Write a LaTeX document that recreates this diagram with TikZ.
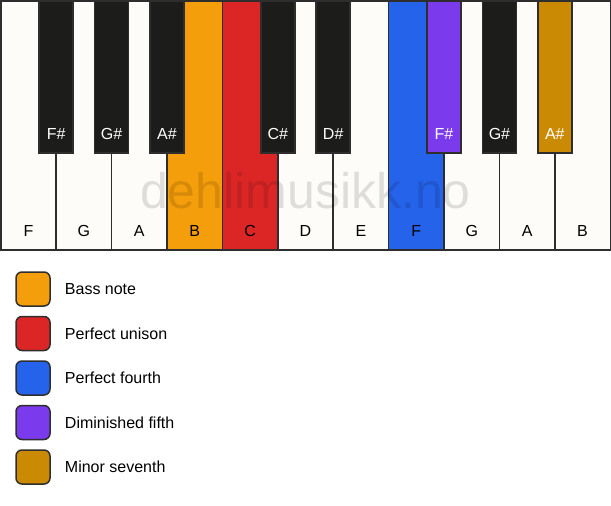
\documentclass[tikz,border=0pt]{standalone}
\usepackage{fontspec}
\setmainfont{Liberation Sans}
\usetikzlibrary{positioning}
\definecolor{ivory}{HTML}{FDFCF9}
\definecolor{keyline}{HTML}{2E2E2E}
\definecolor{ebony}{HTML}{1C1C1A}
\definecolor{bassorange}{HTML}{F59E0B}
\definecolor{unisonred}{HTML}{DC2626}
\definecolor{fourthblue}{HTML}{2563EB}
\definecolor{fifthpurple}{HTML}{7C3AED}
\definecolor{seventhgold}{HTML}{CA8A04}
\tikzset{
  whitekey/.style={draw=keyline,line width=1.5pt,fill=ivory},
  blackkey/.style={draw=keyline,line width=1.5pt,fill=ebony},
  whitelabel/.style={font=\fontsize{16}{19}\selectfont,text=black,anchor=base},
  blacklabel/.style={font=\fontsize{16}{19}\selectfont,text=white,anchor=base},
  swatch/.style={draw=keyline,line width=1.5pt,rounded corners=6pt,minimum size=34pt,inner sep=0pt},
  legendtext/.style={font=\fontsize{16}{19}\selectfont,inner sep=0pt,anchor=west}
}

\begin{document}
\begin{tikzpicture}[x=1pt,y=-1pt]
\useasboundingbox (0,0) rectangle (611,506);

% White keys
\draw[whitekey] (0.75,0.75) rectangle (56.16,250);
\node[whitelabel] (lF1) at (28.45,236) {F};
\draw[whitekey] (56.16,0.75) rectangle (111.57,250);
\node[whitelabel] (lG1) at (83.86,236) {G};
\draw[whitekey] (111.57,0.75) rectangle (166.98,250);
\node[whitelabel] (lA1) at (139.27,236) {A};
\draw[whitekey,fill=bassorange] (166.98,0.75) rectangle (222.39,250);
\node[whitelabel] (lB1) at (194.68,236) {B};
\draw[whitekey,fill=unisonred] (222.39,0.75) rectangle (277.80,250);
\node[whitelabel] (lC) at (250.09,236) {C};
\draw[whitekey] (277.80,0.75) rectangle (333.21,250);
\node[whitelabel] (lD) at (305.50,236) {D};
\draw[whitekey] (333.21,0.75) rectangle (388.62,250);
\node[whitelabel] (lE) at (360.91,236) {E};
\draw[whitekey,fill=fourthblue] (388.62,0.75) rectangle (444.03,250);
\node[whitelabel] (lF2) at (416.32,236) {F};
\draw[whitekey] (444.03,0.75) rectangle (499.44,250);
\node[whitelabel] (lG2) at (471.73,236) {G};
\draw[whitekey] (499.44,0.75) rectangle (554.85,250);
\node[whitelabel] (lA2) at (527.14,236) {A};
\draw[whitekey] (554.85,0.75) rectangle (610.26,250);
\node[whitelabel] (lB2) at (582.55,236) {B};

% Watermark
\node[font=\fontsize{50}{60}\selectfont,text=black,text opacity=0.12,anchor=base] (wm) at (305.5,208) {dehlimusikk.no};

% Black keys
\draw[blackkey] (39.16,0.75) rectangle (73.16,153);
\node[blacklabel] (lFs1) at (56.16,139) {F\#};
\draw[blackkey] (94.57,0.75) rectangle (128.57,153);
\node[blacklabel] (lGs1) at (111.57,139) {G\#};
\draw[blackkey] (149.98,0.75) rectangle (183.98,153);
\node[blacklabel] (lAs1) at (166.98,139) {A\#};
\draw[blackkey] (260.80,0.75) rectangle (294.80,153);
\node[blacklabel] (lCs) at (277.80,139) {C\#};
\draw[blackkey] (316.21,0.75) rectangle (350.21,153);
\node[blacklabel] (lDs) at (333.21,139) {D\#};
\draw[blackkey,fill=fifthpurple] (427.03,0.75) rectangle (461.03,153);
\node[blacklabel] (lFs2) at (444.03,139) {F\#};
\draw[blackkey] (482.44,0.75) rectangle (516.44,153);
\node[blacklabel] (lGs2) at (499.44,139) {G\#};
\draw[blackkey,fill=seventhgold] (537.85,0.75) rectangle (571.85,153);
\node[blacklabel] (lAs2) at (554.85,139) {A\#};

% Legend
\node[swatch,fill=bassorange] (sqBass) at (33,289) {};
\node[legendtext,right=14pt of sqBass] (txtBass) {Bass note};
\node[swatch,fill=unisonred,below=9pt of sqBass] (sqUnison) {};
\node[legendtext,right=14pt of sqUnison] (txtUnison) {Perfect unison};
\node[swatch,fill=fourthblue,below=9pt of sqUnison] (sqFourth) {};
\node[legendtext,right=14pt of sqFourth] (txtFourth) {Perfect fourth};
\node[swatch,fill=fifthpurple,below=9pt of sqFourth] (sqFifth) {};
\node[legendtext,right=14pt of sqFifth] (txtFifth) {Diminished fifth};
\node[swatch,fill=seventhgold,below=9pt of sqFifth] (sqSeventh) {};
\node[legendtext,right=14pt of sqSeventh] (txtSeventh) {Minor seventh};
\end{tikzpicture}
\end{document}
